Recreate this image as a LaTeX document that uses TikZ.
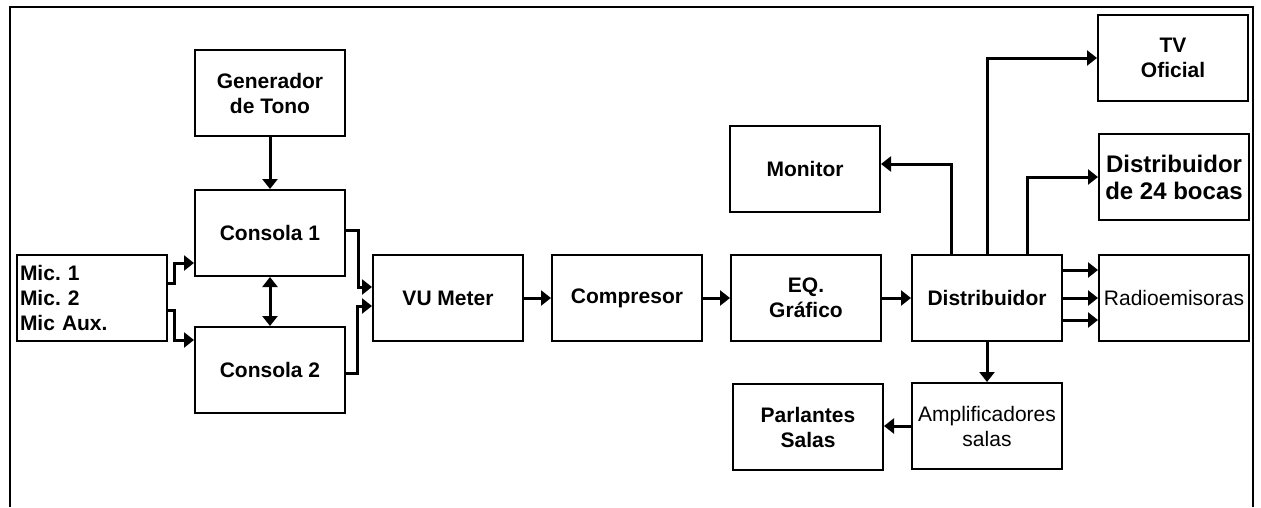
\documentclass[tikz,border=0pt]{standalone}
\usepackage{fontspec}
\setmainfont{Liberation Sans}
\usetikzlibrary{arrows.meta}
\usetikzlibrary{positioning}
\usetikzlibrary{calc}
\tikzset{
  bloque/.style = {
    draw, line width=2pt, minimum width=150pt, minimum height=86pt,
    inner sep=1pt, align=center, font=\fontsize{21}{25}\selectfont\bfseries }
}
\frenchspacing

\begin{document}
\begin{tikzpicture}[x=1pt,y=-1pt,
flecha/.style={line width=3pt, -{Triangle[length=10pt,width=15pt]}},
flecha_doble/.style={line width=3pt, {Triangle[length=10pt,width=15pt]}-{Triangle[length=10pt,width=15pt]}},
fino/.style={font=\fontsize{21}{25}\selectfont\mdseries}]
\useasboundingbox (0,0) rectangle (1261,507);
\draw[line width=2pt] (10,507) -- (10,7) -- (1253,7) -- (1253,507);

% entradas y consolas
\node[bloque, align=left, text width=144pt] (mic) at (92,298) {Mic. 1\\Mic. 2\\Mic Aux.};
\node[bloque] (gen) at (270,93) {Generador\\de Tono};
\node[bloque] (con1) at (270,233) {Consola 1};
\node[bloque] (con2) at (270,370) {Consola 2};

% cadena principal
\node[bloque] (vu) at (448,298) {VU Meter};
\node[bloque] (comp) at (627,298) {Compresor};
\node[bloque] (eq) at (806,298) {EQ.\\Gr\'afico};
\node[bloque] (dist) at (987,298) {Distribuidor};
\node[bloque, fino] (radio) at (1174,298) {Radioemisoras};

% salidas
\node[bloque] (tv) at (1173,58) {TV\\Oficial};
\node[bloque, font=\fontsize{24}{27}\selectfont\bfseries] (d24) at (1174,177) {Distribuidor\\de 24 bocas};
\node[bloque] (mon) at (805,169) {Monitor};
\node[bloque, fino] (amp) at (987,426) {Amplificadores\\salas};
\node[bloque] (parl) at (808,427) {Parlantes\\Salas};

\draw[flecha] (gen) -- (con1);
\draw[flecha_doble] (con1) -- (con2);
\draw[flecha] ([yshift=15pt]mic.east) -- ++(6,0) |- ([yshift=-30pt]con1.west);
\draw[flecha] ([yshift=-12pt]mic.east) -- ++(6,0) |- ([yshift=30pt]con2.west);
\draw[flecha] ([yshift=3pt]con1.east) -- ++(12,0) |- ([yshift=11pt]vu.west);
\draw[flecha] ([yshift=-3pt]con2.east) -- ++(11,0) |- ([yshift=-8pt]vu.west);

\draw[flecha] (vu) -- (comp);
\draw[flecha] (comp) -- (eq);
\draw[flecha] (eq) -- (dist);
\foreach \d in {28,0,-22}{
 \draw[flecha] ([yshift=\d]dist.east) -- ([yshift=\d]radio.west);
}

\draw[flecha] ([xshift=-36pt]dist.north) |- ([yshift=5pt]mon.east);
\draw[flecha] (dist.north) |- (tv.west);
\draw[flecha] ([xshift=40pt]dist.north) |- (d24.west);
\draw[flecha] (dist) -- (amp);
\draw[flecha] (amp.west) -- (amp.west -| parl.east);
\end{tikzpicture}
\end{document}
